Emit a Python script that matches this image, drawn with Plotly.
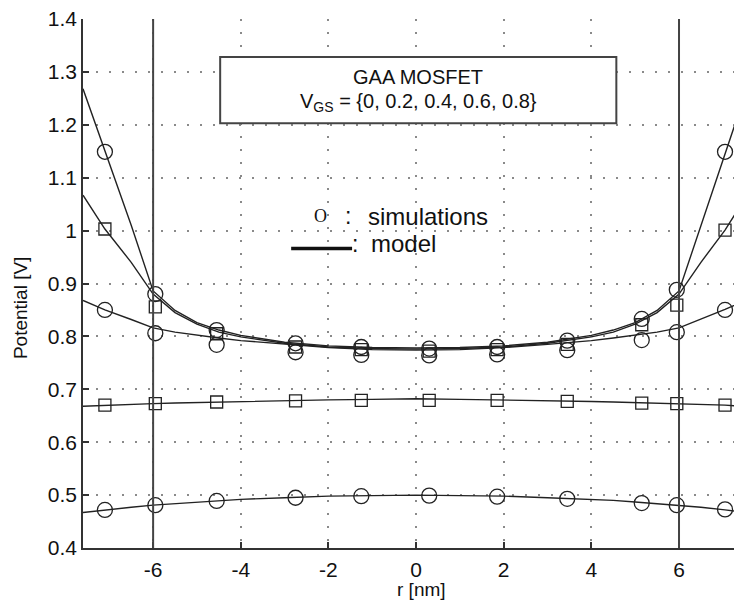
import plotly.graph_objects as go

# ---------------- data ----------------
r_sim = [-7.1, -5.95, -4.55, -2.75, -1.25, 0.3, 1.85, 3.45, 5.15, 5.95, 7.05]
sim_vgs0 = [0.472, 0.481, 0.489, 0.495, 0.498, 0.499, 0.497, 0.493, 0.485, 0.481, 0.473]
sim_vgs02 = [0.670, 0.673, 0.676, 0.678, 0.679, 0.679, 0.679, 0.677, 0.674, 0.673, 0.670]
sim_vgs04 = [0.850, 0.806, 0.784, 0.770, 0.765, 0.764, 0.766, 0.774, 0.793, 0.808, 0.850]
sim_vgs06 = [1.003, 0.856, 0.805, 0.780, 0.775, 0.772, 0.775, 0.785, 0.822, 0.859, 1.001]
sim_vgs08 = [1.149, 0.880, 0.812, 0.787, 0.780, 0.777, 0.780, 0.792, 0.833, 0.888, 1.149]

r_model = [-7.6, -7.1, -6.5, -6.0, -5.5, -5.0, -4.5, -4.0, -3.0, -2.0, -1.0, 0.0,
           1.0, 2.0, 3.0, 4.0, 4.5, 5.0, 5.5, 6.0, 6.5, 7.05, 7.44, 7.65]
mod_vgs0 = [0.467, 0.472, 0.477, 0.481, 0.484, 0.487, 0.490, 0.492, 0.495, 0.498, 0.499, 0.500,
            0.499, 0.498, 0.495, 0.492, 0.490, 0.487, 0.484, 0.481, 0.477, 0.472, 0.468, 0.466]
mod_vgs02 = [0.668, 0.670, 0.672, 0.673, 0.674, 0.675, 0.676, 0.677, 0.679, 0.680, 0.681, 0.682,
             0.681, 0.680, 0.679, 0.677, 0.676, 0.675, 0.674, 0.673, 0.672, 0.670, 0.668, 0.667]
mod_vgs04 = [0.868, 0.850, 0.832, 0.816, 0.808, 0.802, 0.797, 0.792, 0.785, 0.779, 0.775, 0.774,
             0.775, 0.779, 0.785, 0.792, 0.797, 0.802, 0.808, 0.816, 0.832, 0.851, 0.865, 0.871]
mod_vgs06 = [1.067, 1.003, 0.940, 0.880, 0.845, 0.823, 0.808, 0.799, 0.787, 0.780, 0.777, 0.776,
             0.777, 0.780, 0.787, 0.799, 0.808, 0.823, 0.845, 0.880, 0.940, 1.001, 1.052, 1.078]
mod_vgs08 = [1.268, 1.149, 1.010, 0.886, 0.849, 0.826, 0.812, 0.802, 0.789, 0.782, 0.779, 0.778,
             0.779, 0.782, 0.789, 0.802, 0.812, 0.826, 0.849, 0.886, 1.010, 1.147, 1.241, 1.288]

interface_r = [-6, 6]

x_ticks = [-6, -4, -2, 0, 2, 4, 6]
x_ticktext = ["-6", "-4", "-2", "0", "2", "4", "6"]
y_ticks = [0.4, 0.5, 0.6, 0.7, 0.8, 0.9, 1.0, 1.1, 1.2, 1.3, 1.4]
y_ticktext = ["0.4", "0.5", "0.6", "0.7", "0.8", "0.9", "1", "1.1", "1.2", "1.3", "1.4"]

# ---------------- figure ----------------
FONT = "Liberation Sans, Arial, sans-serif"
LINE_C = "#222222"

fig = go.Figure()

for ys in [mod_vgs0, mod_vgs02, mod_vgs04, mod_vgs06, mod_vgs08]:
    fig.add_trace(go.Scatter(x=r_model, y=ys, mode="lines",
                             line=dict(color=LINE_C, width=1.4),
                             showlegend=False, hoverinfo="skip"))

for ys, sym, sz in [(sim_vgs0, "circle-open", 15), (sim_vgs02, "square-open", 12),
                    (sim_vgs04, "circle-open", 15), (sim_vgs06, "square-open", 12),
                    (sim_vgs08, "circle-open", 15)]:
    fig.add_trace(go.Scatter(x=r_sim, y=ys, mode="markers",
                             marker=dict(symbol=sym, size=sz, color=LINE_C,
                                         line=dict(color=LINE_C, width=1.3)),
                             showlegend=False))

shapes = []
for xv in interface_r:
    shapes.append(dict(type="line", xref="x", yref="y", x0=xv, x1=xv, y0=0.4, y1=1.4,
                       line=dict(color="#444444", width=2), layer="above"))
# info box
shapes.append(dict(type="rect", xref="x", yref="y", x0=-4.47, x1=4.57, y0=1.203, y1=1.328,
                   line=dict(color="#444444", width=2), fillcolor="white", layer="above"))
# legend line sample
shapes.append(dict(type="line", xref="x", yref="y", x0=-2.85, x1=-1.46, y0=0.966, y1=0.966,
                   line=dict(color="#111111", width=3.5), layer="above"))

annotations = [
    dict(x=0.05, y=1.291, xref="x", yref="y", text="GAA MOSFET", showarrow=False,
         font=dict(family=FONT, size=20, color="#111")),
    dict(x=0.05, y=1.242, xref="x", yref="y",
         text="V<sub>GS</sub> = {0, 0.2, 0.4, 0.6, 0.8}", showarrow=False,
         font=dict(family=FONT, size=20, color="#111")),
    dict(x=-2.19, y=1.027, xref="x", yref="y", text="O", showarrow=False,
         font=dict(family="Liberation Serif, Times New Roman, serif", size=18, color="#111")),
    dict(x=-1.55, y=1.027, xref="x", yref="y", text=":", showarrow=False,
         font=dict(family=FONT, size=23, color="#111")),
    dict(x=-1.14, y=1.027, xref="x", yref="y", text="simulations", showarrow=False,
         xanchor="left", font=dict(family=FONT, size=24, color="#111")),
    dict(x=-1.40, y=0.975, xref="x", yref="y", text=":", showarrow=False,
         font=dict(family=FONT, size=23, color="#111")),
    dict(x=-1.07, y=0.975, xref="x", yref="y", text="model", showarrow=False,
         xanchor="left", font=dict(family=FONT, size=24, color="#111")),
    dict(x=-0.0926, y=0.454, xref="paper", yref="paper", text="Potential [V]",
         xanchor="center", yanchor="middle",
         showarrow=False, textangle=-90, font=dict(family=FONT, size=19, color="#111")),
    dict(x=0.508, y=-0.079, xref="paper", yref="paper", text="r [nm]",
         xanchor="center", yanchor="middle",
         showarrow=False, font=dict(family=FONT, size=19, color="#111")),
]

grid_common = dict(showgrid=True, gridcolor="#8a8a8a", gridwidth=1.5, griddash="2px,11px",
                   zeroline=False, showline=True, linecolor="#333333", linewidth=1.6,
                   ticks="inside", ticklen=6, tickcolor="#333333", tickwidth=1.5,
                   tickfont=dict(family=FONT, size=21, color="#111"), mirror=False,
                   automargin=False, ticklabeloverflow="allow")

# the page body adds an 8 px offset, so margins are reduced accordingly
fig.update_layout(
    width=742, height=605,
    margin=dict(l=75, r=0, t=11, b=65),
    paper_bgcolor="white", plot_bgcolor="white",
    xaxis=dict(range=[-7.6, 7.62], tickvals=x_ticks, ticktext=x_ticktext, ticklabelstandoff=2,
               **grid_common),
    yaxis=dict(range=[0.4, 1.4], tickvals=y_ticks, ticktext=y_ticktext, ticklabelstandoff=0,
               **grid_common),
    shapes=shapes, annotations=annotations,
)

fig.write_html("out.html")
